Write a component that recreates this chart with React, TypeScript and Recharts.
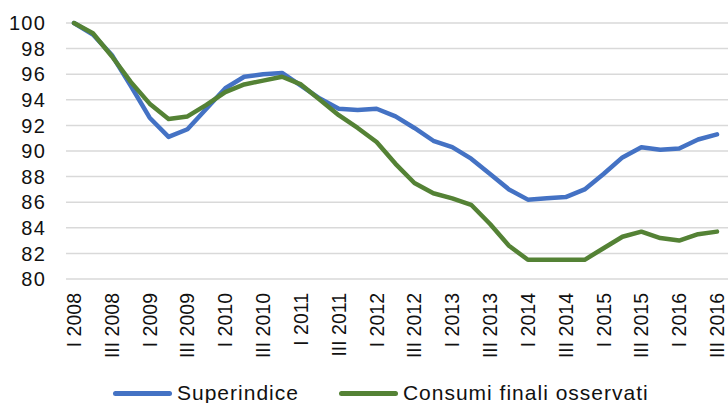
import { LineChart, Line, XAxis, YAxis, CartesianGrid, Legend } from "recharts"

const quarters = [
	"I 2008", "II 2008", "III 2008", "IV 2008",
	"I 2009", "II 2009", "III 2009", "IV 2009",
	"I 2010", "II 2010", "III 2010", "IV 2010",
	"I 2011", "II 2011", "III 2011", "IV 2011",
	"I 2012", "II 2012", "III 2012", "IV 2012",
	"I 2013", "II 2013", "III 2013", "IV 2013",
	"I 2014", "II 2014", "III 2014", "IV 2014",
	"I 2015", "II 2015", "III 2015", "IV 2015",
	"I 2016", "II 2016", "III 2016",
]

const superindice = [
	100, 99.1, 97.5, 95.1, 92.6, 91.1, 91.7, 93.3, 94.9, 95.8, 96.0, 96.1,
	95.1, 94.1, 93.3, 93.2, 93.3, 92.7, 91.8, 90.8, 90.3, 89.4, 88.2, 87.0,
	86.2, 86.3, 86.4, 87.0, 88.2, 89.5, 90.3, 90.1, 90.2, 90.9, 91.3,
]

const consumi = [
	100, 99.2, 97.4, 95.4, 93.7, 92.5, 92.7, 93.6, 94.6, 95.2, 95.5, 95.8,
	95.2, 94.0, 92.8, 91.8, 90.7, 89.0, 87.5, 86.7, 86.3, 85.8, 84.3, 82.6,
	81.5, 81.5, 81.5, 81.5, 82.4, 83.3, 83.7, 83.2, 83.0, 83.5, 83.7,
]

const yTicks = [80, 82, 84, 86, 88, 90, 92, 94, 96, 98, 100]

const data = quarters.map((q, i) => ({
	q,
	superindice: superindice[i],
	consumi: consumi[i],
}))

const FONT = "'Liberation Sans', Arial, sans-serif"
const BLUE = "#4472C4"
const GREEN = "#548235"

function QuarterTick(props: any) {
	const { x, y, payload } = props
	return (
		<text
			x={x}
			y={y}
			transform={`rotate(-90, ${x}, ${y})`}
			textAnchor="end"
			dominantBaseline="central"
			fontFamily={FONT}
			fontSize={19.5}
			fill="#111"
		>
			{payload.value}
		</text>
	)
}

function LegendContent() {
	const items = [
		{ label: "Superindice", color: BLUE },
		{ label: "Consumi finali osservati", color: GREEN },
	]
	return (
		<div style={{ display: "flex", alignItems: "center", height: 30, gap: 40 }}>
			{items.map((it) => (
				<div key={it.label} style={{ display: "flex", alignItems: "center" }}>
					<div
						style={{
							width: 59,
							height: 5,
							borderRadius: 3,
							background: it.color,
							marginRight: 5,
						}}
					/>
					<span
						style={{
							fontFamily: FONT,
							fontSize: 21,
							letterSpacing: 1,
							color: "#111",
							whiteSpace: "nowrap",
						}}
					>
						{it.label}
					</span>
				</div>
			))}
		</div>
	)
}

export default function App() {
	return (
		<div style={{ position: "absolute", left: 0, top: 0, width: 728, height: 403, overflow: "hidden", background: "#fff" }}>
			<LineChart
				width={728}
				height={403}
				data={data}
				margin={{ top: 23, right: 0, left: 0, bottom: 0 }}
			>
				<CartesianGrid vertical={false} stroke="#D9D9D9" strokeWidth={1.5} />
				<XAxis
					dataKey="q"
					interval={1}
					axisLine={false}
					tickLine={false}
					tickSize={0}
					tickMargin={14}
					height={94}
					padding={{ left: 8, right: 11 }}
					tick={<QuarterTick />}
				/>
				<YAxis
					domain={[80, 100]}
					ticks={yTicks}
					interval={0}
					width={66}
					axisLine={false}
					tickLine={false}
					tickSize={0}
					tickMargin={20}
					tick={{ fontFamily: FONT, fontSize: 20, fill: "#111", letterSpacing: 1.2 }}
				/>
				<Legend
					verticalAlign="bottom"
					content={<LegendContent />}
					wrapperStyle={{ left: 113, bottom: -5, width: "auto" }}
				/>
				<Line
					type="linear"
					dataKey="superindice"
					stroke={BLUE}
					strokeWidth={4.5}
					strokeLinejoin="round"
					strokeLinecap="round"
					dot={false}
					isAnimationActive={false}
				/>
				<Line
					type="linear"
					dataKey="consumi"
					stroke={GREEN}
					strokeWidth={4.5}
					strokeLinejoin="round"
					strokeLinecap="round"
					dot={false}
					isAnimationActive={false}
				/>
			</LineChart>
		</div>
	)
}
